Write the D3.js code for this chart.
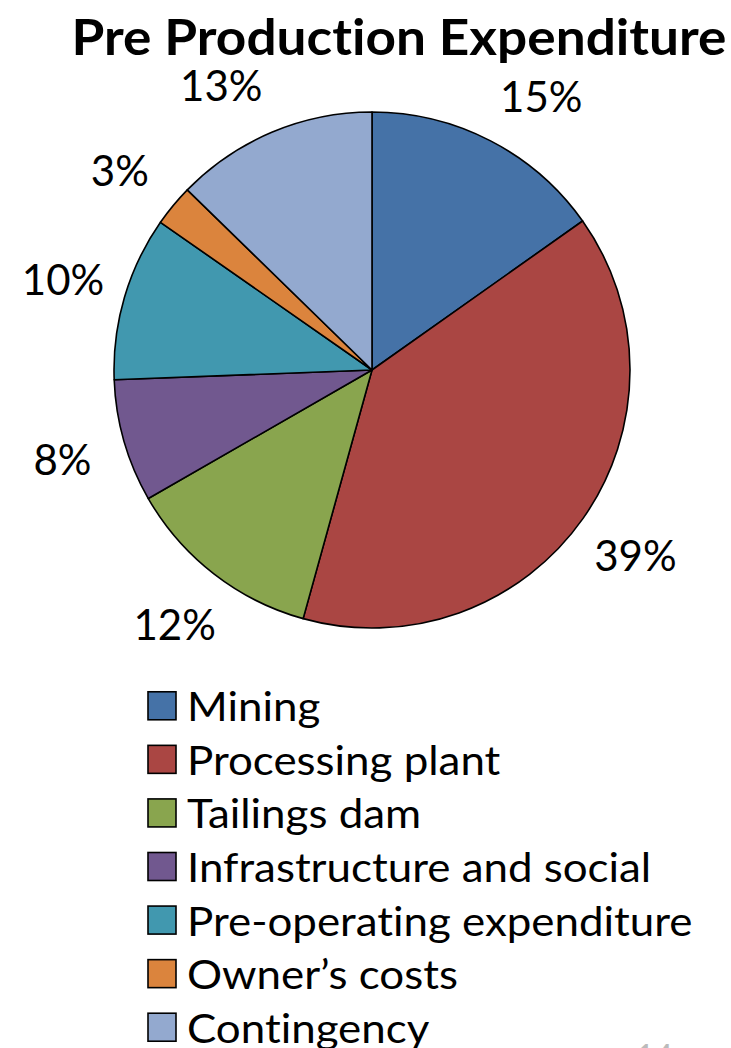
<!DOCTYPE html>
<html><head><meta charset="utf-8">
<script src="https://cdn.jsdelivr.net/npm/d3@7"></script>
<style>body{margin:0;background:#fff}svg{display:block}text{font-variant-ligatures:none;font-feature-settings:"liga" 0}</style>
</head><body>
<svg id="c" width="731" height="1048"></svg>
<script>
const categories = ["Mining","Processing plant","Tailings dam","Infrastructure and social","Pre-operating expenditure","Owner\u2019s costs","Contingency"];
const values = [15.2, 39.1, 12.4, 7.7, 10.3, 2.6, 12.7];
const colors = ["#4572A7","#AA4643","#89A54E","#71588F","#4198AF","#DB843D","#93A9CF"];
const title = "Pre Production Expenditure";

const svg = d3.select("#c");
const font = "Lato, 'Open Sans', sans-serif";
const cx = 372, cy = 370, R = 258, LR = 322;
const data = categories.map((c,i)=>({cat:c, value:values[i], color:colors[i]}));
const pie = d3.pie().sort(null).value(d=>d.value);
const arcs = pie(data);
const arc = d3.arc().innerRadius(0).outerRadius(R);

svg.append("text").attr("x",399).attr("y",55).attr("text-anchor","middle")
  .attr("font-family",font).attr("font-weight","bold").attr("font-size",50)
  .attr("textLength",655).attr("lengthAdjust","spacingAndGlyphs")
  .text(title);

const g = svg.append("g").attr("transform",`translate(${cx},${cy})`);
g.selectAll("path").data(arcs).join("path")
  .attr("d",arc).attr("fill",d=>d.data.color)
  .attr("stroke","#000").attr("stroke-width",1.6).attr("stroke-linejoin","round");

// outside labels at centroid angle, nudged away from the vertical near the title
function labelPos(d){
  let a = (d.startAngle + d.endAngle)/2;
  const s = Math.sin(a), c = Math.cos(a);
  if (c > 0) a += Math.sign(s) * (7*Math.PI/180) * Math.pow(c,4);
  return [LR*Math.sin(a), -LR*Math.cos(a)];
}
g.selectAll("text.lbl").data(arcs).join("text").attr("class","lbl")
  .attr("transform",d=>`translate(${labelPos(d)})`)
  .attr("text-anchor","middle").attr("dominant-baseline","central")
  .attr("font-family",font).attr("font-size",42)
  .text(d=>Math.round(d.data.value)+"%");

const leg = svg.append("g");
const ly = d3.scaleBand().domain(categories).range([679,1054]);
const rows = leg.selectAll("g").data(data).join("g")
  .attr("transform",d=>`translate(0,${ly(d.cat)+ly.bandwidth()/2})`);
rows.append("rect").attr("x",148).attr("y",-14).attr("width",28).attr("height",28)
  .attr("fill",d=>d.color).attr("stroke","#000").attr("stroke-width",1.6);
rows.append("text").attr("x",187).attr("y",0).attr("dominant-baseline","central")
  .attr("font-family",font).attr("font-size",41).text(d=>d.cat)
  .each(function(){ const w=this.getComputedTextLength(); d3.select(this).attr("textLength",w*1.07).attr("lengthAdjust","spacingAndGlyphs"); });

svg.append("text").attr("x",636).attr("y",1068).attr("font-family",font)
  .attr("font-size",32).attr("fill","#bbb").text("14");
</script>
</body></html>
